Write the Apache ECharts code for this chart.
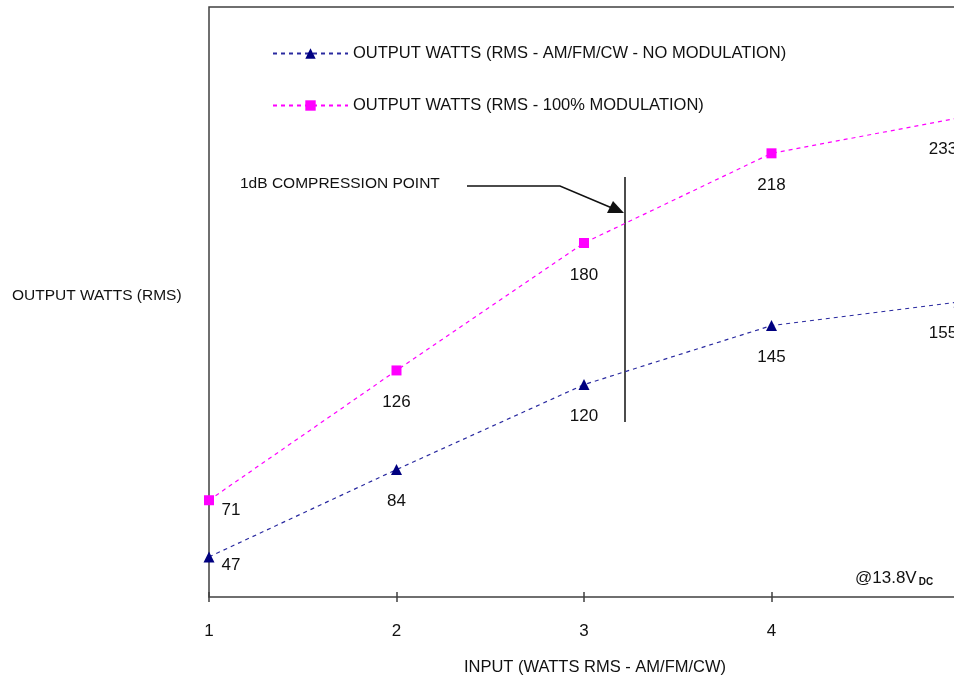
<!DOCTYPE html>
<html>
<head>
<meta charset="utf-8">
<script src="https://cdn.jsdelivr.net/npm/echarts@6/dist/echarts.min.js"></script>
<style>html,body{margin:0;padding:0;background:#fff}#c{width:954px;height:685px}</style>
</head>
<body>
<div id="c"></div>
<script>
const inputWatts = [1, 2, 3, 4, 5];
const xTickLabels = ['1', '2', '3', '4', ''];
const noModulation = [47, 84, 120, 145, 155];
const fullModulation = [71, 126, 180, 218, 233];
const seriesNames = ['OUTPUT WATTS (RMS - AM/FM/CW - NO MODULATION)', 'OUTPUT WATTS (RMS - 100% MODULATION)'];

const FONT = 'Liberation Sans';
const labelOffsets = [[22, 8], [0, 32], [0, 32], [0, 32], [-16, 31]];
const labelOffsetsPink = [[22, 10], [0, 32], [0, 32], [0, 32], [-16, 31]];

function buildData(vals, offs) {
  return vals.map((v, i) => ({
    value: [inputWatts[i], v],
    label: { offset: offs[i] }
  }));
}

const chart = echarts.init(document.getElementById('c'));
chart.setOption({
  animation: false,
  backgroundColor: '#fff',
  grid: { left: 209, top: 7, right: -5, bottom: 88, outerBoundsMode: 'none', containLabel: false, show: true, borderColor: '#404040', borderWidth: 1.5, backgroundColor: 'transparent' },
  legend: {
    orient: 'vertical', left: 272, top: 45, padding: 0, itemWidth: 75, itemHeight: 13, itemGap: 35,
    data: seriesNames,
    textStyle: { fontFamily: FONT, fontSize: 16.5, color: '#111' }
  },
  xAxis: [{
    type: 'value', min: 1, max: 5, interval: 1,
    axisLine: { show: false },
    axisTick: { show: true, length: 5, lineStyle: { color: '#404040', width: 1.5 } },
    axisLabel: { margin: 26, fontFamily: FONT, fontSize: 17, color: '#111', formatter: v => xTickLabels[v - 1] },
    splitLine: { show: false }
  }, {
    type: 'value', min: 1, max: 5, interval: 1, position: 'bottom',
    axisLine: { show: false },
    axisTick: { show: true, inside: true, length: 5, lineStyle: { color: '#404040', width: 1.5 } },
    axisLabel: { show: false },
    splitLine: { show: false }
  }],
  yAxis: {
    type: 'value', min: 30, max: 280,
    axisLine: { show: false }, axisTick: { show: false }, axisLabel: { show: false }, splitLine: { show: false }
  },
  series: [{
    name: seriesNames[0], type: 'line',
    data: buildData(noModulation, labelOffsets),
    symbol: 'triangle', symbolSize: 11,
    itemStyle: { color: '#000080' },
    lineStyle: { color: '#2a2aa0', width: 1.2, type: [4, 4] },
    label: { show: true, position: 'inside', fontFamily: FONT, fontSize: 17, color: '#111' },
    clip: false
  }, {
    name: seriesNames[1], type: 'line',
    data: buildData(fullModulation, labelOffsetsPink),
    symbol: 'rect', symbolSize: 10,
    itemStyle: { color: '#ff00ff' },
    lineStyle: { color: '#ff00ff', width: 1.2, type: [4, 4] },
    label: { show: true, position: 'inside', fontFamily: FONT, fontSize: 17, color: '#111' },
    clip: false
  }],
  graphic: [
    { type: 'text', left: 12, top: 288, style: { text: 'OUTPUT WATTS (RMS)', font: '15.5px "Liberation Sans"', fill: '#111' } },
    { type: 'text', x: 595, y: 667, style: { text: 'INPUT (WATTS RMS - AM/FM/CW)', font: '16.5px "Liberation Sans"', fill: '#111', align: 'center', verticalAlign: 'middle' } },
    { type: 'text', x: 240, y: 184, style: { text: '1dB COMPRESSION POINT', font: '15.5px "Liberation Sans"', fill: '#111', verticalAlign: 'middle' } },
    { type: 'line', shape: { x1: 625, y1: 177, x2: 625, y2: 422 }, style: { stroke: '#111', lineWidth: 1.5 } },
    { type: 'polyline', shape: { points: [[467, 186], [560, 186], [612, 208]] }, style: { stroke: '#111', lineWidth: 1.5, fill: null } },
    { type: 'polygon', shape: { points: [[624, 213], [607, 213], [613, 201]] }, style: { fill: '#111' } },
    { type: 'text', x: 855, y: 578, style: {
      text: '{a|@13.8V}{b|DC}', verticalAlign: 'middle',
      rich: { a: { font: '17px "Liberation Sans"', fill: '#111' }, b: { font: 'bold 10px "Liberation Sans"', fill: '#111', padding: [9, 0, 0, 2] } }
    } }
  ]
});
</script>
</body>
</html>
